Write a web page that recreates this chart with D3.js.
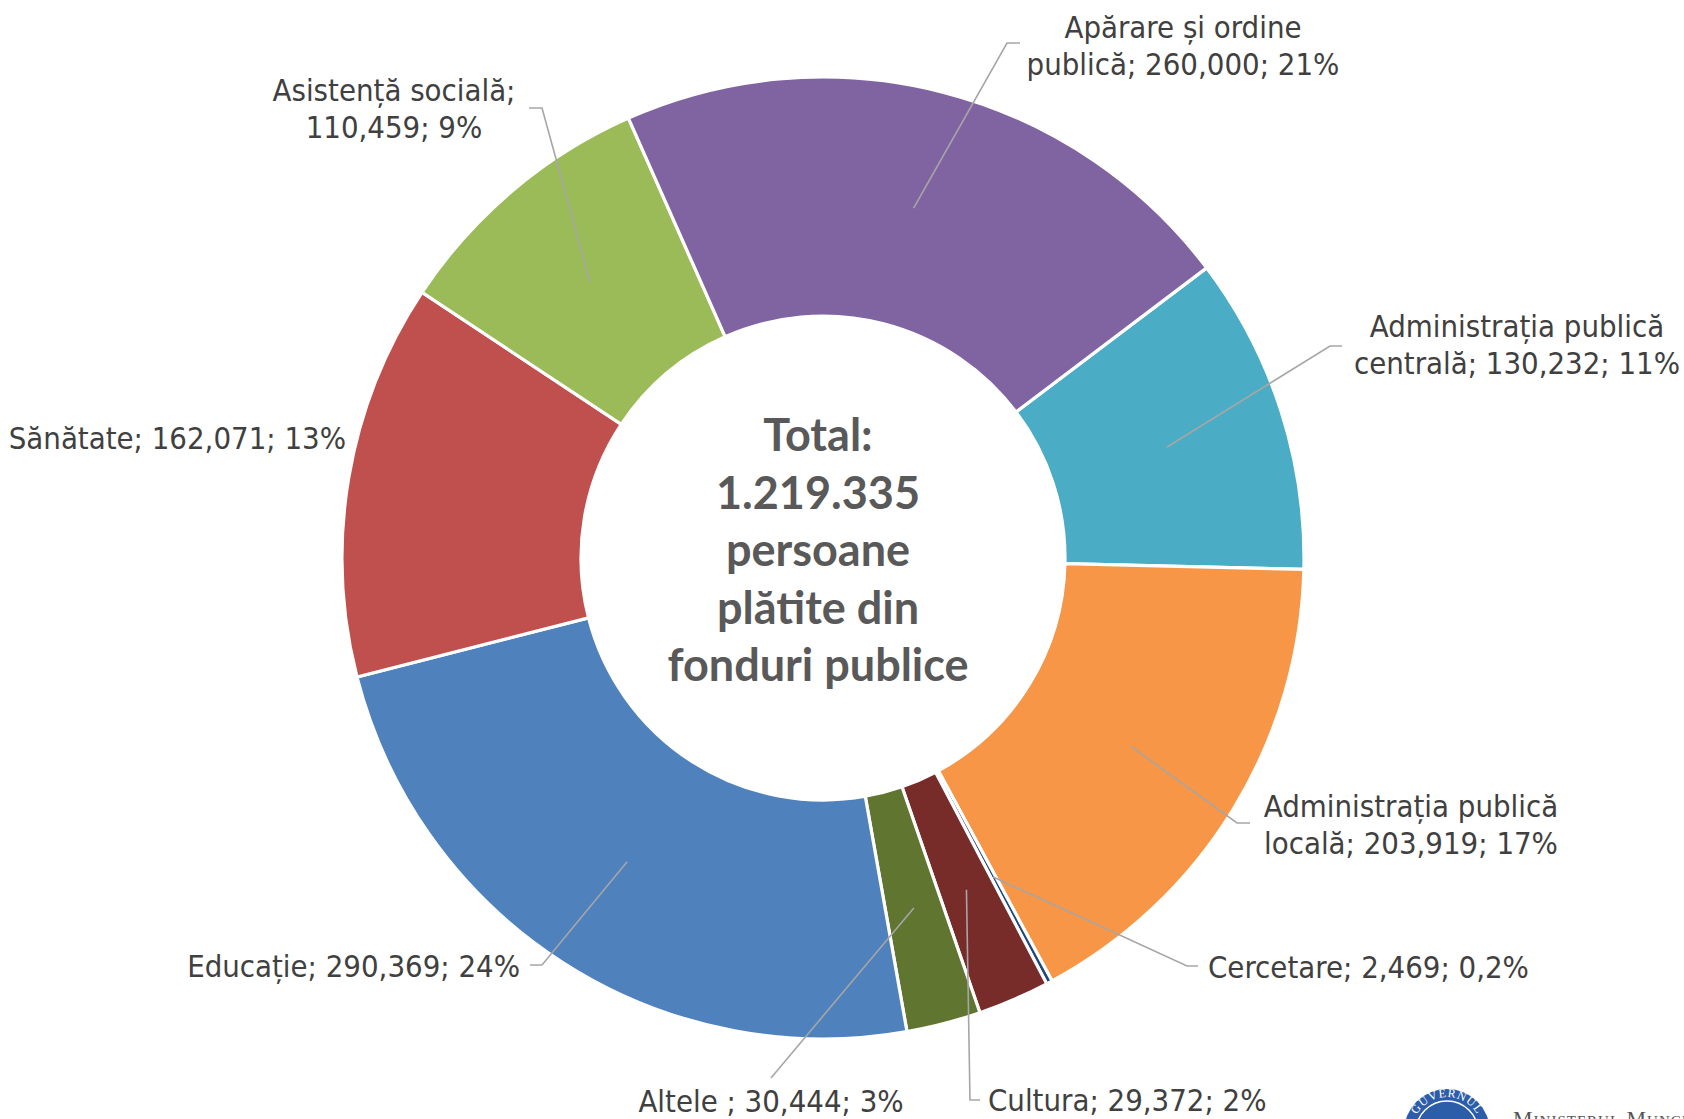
<!DOCTYPE html>
<html>
<head>
<meta charset="utf-8">
<script src="https://cdn.jsdelivr.net/npm/d3@7"></script>
<style>
    html, body { margin: 0; padding: 0; background: #fff; }
    svg { display: block; }
    .lbl { font-family: 'DejaVu Sans Condensed', 'DejaVu Sans', sans-serif; font-stretch: condensed; font-size: 30.8px; fill: #404040; }
    .center-txt { font-family: Lato, 'Open Sans', sans-serif; font-weight: 700; font-size: 45px; fill: #595959; }
</style>
</head>
<body>
<svg id="chart" width="1684" height="1119"></svg>
<script>
// Data (order = clockwise, starting at the purple/teal boundary)
const categories = ['Administrația publică centrală', 'Administrația publică locală', 'Cercetare', 'Cultura',
    'Altele ', 'Educație', 'Sănătate', 'Asistență socială', 'Apărare și ordine publică'];
const values = [130232, 203919, 2469, 29372, 30444, 290369, 162071, 110459, 260000];
const pctLabels = ['11%', '17%', '0,2%', '2%', '3%', '24%', '13%', '9%', '21%'];
const colors = ['#4BACC6', '#F79646', '#1F497D', '#772C2A', '#5F7530', '#4F81BD', '#C0504D', '#9BBB59', '#8064A2'];
const wordsOnFirstLine = [2, 2, 0, 0, 0, 0, 0, 2, 3];
const centerLines = ['Total:', '1.219.335', 'persoane', 'plătite din', 'fonduri publice'];

// Label placement (manual, like the original)
const labelLayout = [
    { x: 1517, y: 337, anchor: 'middle', elbow: [1330, 346], end: [1342, 346] },
    { x: 1411, y: 817, anchor: 'middle', elbow: [1237, 823], end: [1250, 823] },
    { x: 1208, y: 978, anchor: 'start', elbow: [1187, 966], end: [1198, 966] },
    { x: 988, y: 1111, anchor: 'start', elbow: [970, 1100], end: [980, 1100] },
    { x: 771, y: 1112, anchor: 'middle', elbow: [771, 1078], end: null },
    { x: 520, y: 977, anchor: 'end', elbow: [542, 965], end: [530, 965] },
    { x: 346, y: 449, anchor: 'end', elbow: null, end: null },
    { x: 394, y: 101, anchor: 'middle', elbow: [542, 108], end: [529, 108] },
    { x: 1183, y: 38, anchor: 'middle', elbow: [1007, 43], end: [1020, 43] }
];

const cx = 823, cy = 558;
const outerR = 481, innerR = 242;
const lineH = 37;
const startDeg = 52.9;

const svg = d3.select('#chart');
const g = svg.append('g').attr('transform', `translate(${cx},${cy})`);

const data = categories.map((c, i) => ({ name: c, value: values[i], pct: pctLabels[i], color: colors[i], idx: i }));

const pie = d3.pie()
    .value(d => d.value)
    .sort(null)
    .startAngle(startDeg * Math.PI / 180)
    .endAngle(startDeg * Math.PI / 180 + 2 * Math.PI);

const arc = d3.arc().innerRadius(innerR).outerRadius(outerR);
const arcs = pie(data);

// Slices
g.selectAll('path.slice')
    .data(arcs)
    .enter()
    .append('path')
    .attr('class', 'slice')
    .attr('d', arc)
    .style('fill', d => d.data.color)
    .style('stroke', '#fff')
    .style('stroke-width', 3.2)
    .style('stroke-linejoin', 'miter');

// Leader lines
arcs.forEach((a, i) => {
    const lay = labelLayout[i];
    if (!lay.elbow) return;
    const c = arc.centroid(a);
    const pts = [[c[0] + cx, c[1] + cy], lay.elbow];
    if (lay.end) pts.push(lay.end);
    svg.append('path')
        .attr('d', d3.line()(pts))
        .style('fill', 'none')
        .style('stroke', '#A6A6A6')
        .style('stroke-width', 1.6);
});

// Labels
const fmt = d3.format(',');
arcs.forEach((a, i) => {
    const d = a.data;
    const lay = labelLayout[i];
    const full = `${d.name}; ${fmt(d.value)}; ${d.pct}`;
    let lines = [full];
    const n = wordsOnFirstLine[i];
    if (n > 0) {
        const words = full.split(' ');
        lines = [words.slice(0, n).join(' '), words.slice(n).join(' ')];
    }
    const t = svg.append('text')
        .attr('class', 'lbl')
        .attr('text-anchor', lay.anchor);
    lines.forEach((ln, k) => {
        t.append('tspan')
            .attr('x', lay.x)
            .attr('y', lay.y + k * lineH)
            .text(ln);
    });
});

// Center text
const ct = svg.append('text')
    .attr('class', 'center-txt')
    .attr('text-anchor', 'middle');
centerLines.forEach((ln, k) => {
    ct.append('tspan')
        .attr('x', 818)
        .attr('y', 451 + k * 57.5)
        .text(ln);
});

// Ministry logo (partially cut off at the bottom edge)
const logo = svg.append('g').attr('transform', 'translate(1447,1132)');
logo.append('circle').attr('r', 43).style('fill', '#2C5DA8');
logo.append('circle').attr('r', 31).style('fill', 'none').style('stroke', '#fff').style('stroke-width', 1.5);
logo.append('path').attr('id', 'sealArc')
    .attr('d', 'M -35,0 A 35,35 0 0 1 35,0')
    .style('fill', 'none');
logo.append('text')
    .style('font-family', 'Liberation Serif, serif')
    .style('font-size', '12px')
    .style('fill', '#fff')
    .style('letter-spacing', '1px')
    .append('textPath')
    .attr('href', '#sealArc')
    .attr('startOffset', '50%')
    .attr('text-anchor', 'middle')
    .text('GUVERNUL');

svg.append('text')
    .attr('x', 1513)
    .attr('y', 1126)
    .style('font-family', 'Liberation Serif, serif')
    .style('font-variant', 'small-caps')
    .style('font-size', '22px')
    .style('letter-spacing', '1px')
    .style('fill', '#555')
    .text('Ministerul Muncii');
</script>
</body>
</html>
